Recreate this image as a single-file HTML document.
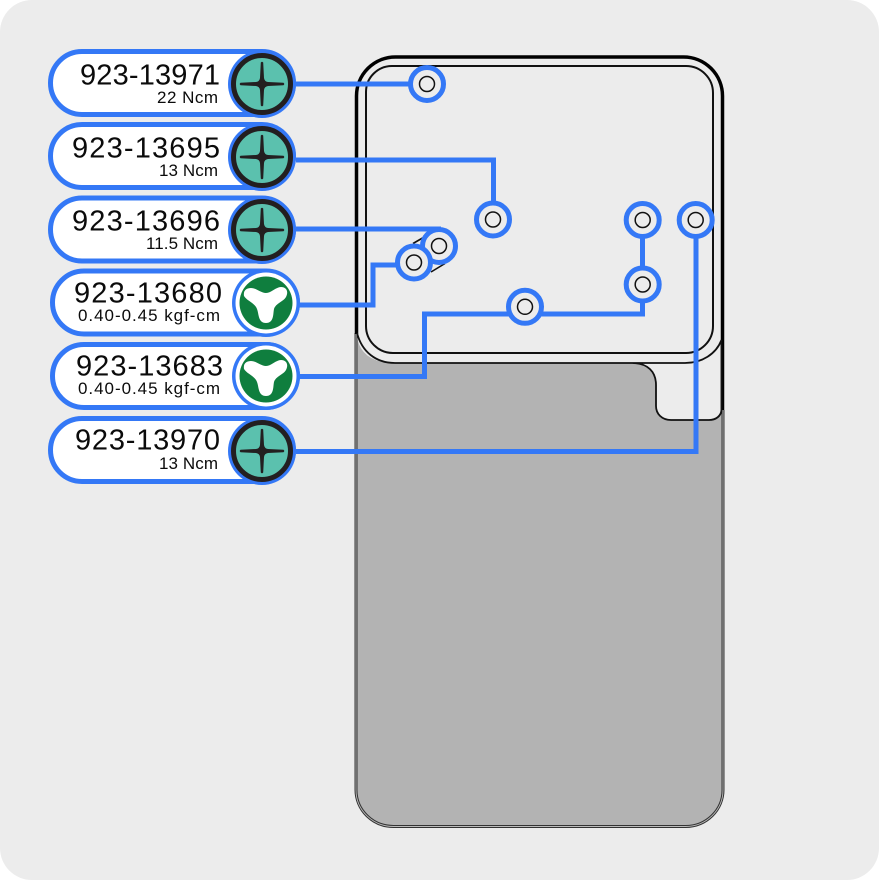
<!DOCTYPE html>
<html><head><meta charset="utf-8"><style>
html,body{margin:0;padding:0;background:#fff;width:879px;height:880px;overflow:hidden}
svg{display:block}
text{font-family:"Liberation Sans",sans-serif;fill:#0b0b0b;text-anchor:end}
.a{font-size:29px}
.b{font-size:17px}
</style></head><body>
<svg width="879" height="880" viewBox="0 0 879 880" xmlns="http://www.w3.org/2000/svg">
<defs>
<g id="ph">
<circle r="34" fill="#3478f6"/>
<circle r="28.500" fill="#5bc1ae" stroke="#231f20" stroke-width="5"/>
<path d="M-1.200-21.500 Q0-23 1.200-21.500 L2-6 Q2.500-2.500 6-2 L21.500-1.200 Q23 0 21.500 1.200 L6 2 Q2.500 2.500 2 6 L1.200 21.500 Q0 23 -1.200 21.500 L-2 6 Q-2.500 2.500 -6 2 L-21.500 1.200 Q-23 0 -21.500-1.200 L-6-2 Q-2.500-2.500 -2-6Z" fill="#231f20"/>
</g>
<g id="tri">
<circle r="34" fill="#3478f6"/>
<circle r="30.500" fill="#fff"/>
<circle r="26.500" fill="#0f7e3e"/>
<path d="M-22-7 C-23-13 -19-15 -15-15 C-10-15 -5-10 0-10 C5-10 10-16 15-16 C20-16 23-12 20-6 C17-1 10 0 8 6 C7 11 8 20 0 20 C-8 20 -7 11 -9 6 C-11 0 -19-2 -22-7Z" fill="#fff"/>
</g>
</defs>
<rect x="0" y="0" width="879" height="880" rx="32" fill="#ececec"/>

<!-- device -->
<path d="M356.500 333 Q359 363 395 363 H632 C648 363 656 372 656 385 V406 C656 414 662 420 671 420 H709 C716 420 721 416 721.500 410 L723 410 V790 A37 37 0 0 1 686 827 H393 A37.500 37 0 0 1 356 790 Z" fill="#b3b3b3"/>
<path d="M356 333 V790 A37.500 36.500 0 0 0 393.500 826.500 H685.500 A37.500 36.500 0 0 0 723 790 V410" fill="none" stroke="#333" stroke-width="3"/>
<path d="M356 333 V790 A37.500 36.500 0 0 0 393.500 826.500 H685.500 A37.500 36.500 0 0 0 723 790 V410" fill="none" stroke="#bbb" stroke-width="0.900"/>
<path d="M356.500 334 V96 A39 39 0 0 1 395.500 57 H683.500 A39 39 0 0 1 722.500 96 V410" fill="none" stroke="#000" stroke-width="3.500"/>
<path d="M392 66 H686 A27 27 0 0 1 713 93 V326 A27 27 0 0 1 686 353 H393 A27 27 0 0 1 366 326 V92 A26 26 0 0 1 392 66Z" fill="none" stroke="#111" stroke-width="2"/>
<path d="M357 333 C362 352 376 363 395 363 H632 C648 363 656 372 656 385 V406 C656 414 662 420 671 420 H709 C716 420 721 416 721.500 410 V340 C716 354 702 363 685 363 H632" fill="none" stroke="#111" stroke-width="1.800"/>
<path d="M413 243.500 L426 236 M431 272 L445 263.500" fill="none" stroke="#111" stroke-width="1.600"/>

<!-- connectors -->
<g fill="none" stroke="#3478f6" stroke-width="5">
<path d="M296 84 H411"/>
<path d="M296 160 H493.500 V203"/>
<path d="M296 229 H441"/>
<path d="M298 305 H373 V265 H398"/>
<path d="M298 376.500 H424.500 V314 H510"/>
<path d="M540 314 H642.500 V300"/>
<path d="M642.500 268 V236"/>
<path d="M296 451.500 H696 V236"/>
</g>

<!-- screw holes -->
<g fill="#ececec" stroke="#3478f6" stroke-width="5">
<circle cx="427" cy="84" r="16.500"/>
<circle cx="493" cy="219.500" r="16.500"/>
<circle cx="642.700" cy="220" r="16.500"/>
<circle cx="695.700" cy="220" r="16.500"/>
<circle cx="642.700" cy="284.500" r="16.500"/>
<circle cx="525" cy="306.800" r="16.500"/>
<circle cx="439" cy="246" r="16.500"/>
<circle cx="414" cy="262.500" r="16.500"/>
</g>
<g fill="none" stroke="#111" stroke-width="1.500">
<circle cx="427" cy="84" r="7.500"/>
<circle cx="493" cy="219.500" r="7.500"/>
<circle cx="642.700" cy="220" r="7.500"/>
<circle cx="695.700" cy="220" r="7.500"/>
<circle cx="642.700" cy="284.500" r="7.500"/>
<circle cx="525" cy="306.800" r="7.500"/>
<circle cx="439" cy="246" r="7.500"/>
<circle cx="414" cy="262.500" r="7.500"/>
</g>

<!-- pills -->
<g fill="#fff" stroke="#3478f6" stroke-width="5">
<rect x="50.500" y="51.500" width="243" height="63" rx="31.500"/>
<rect x="50.500" y="124.500" width="243" height="63" rx="31.500"/>
<rect x="50.500" y="198" width="243" height="63" rx="31.500"/>
<rect x="52.500" y="271" width="245" height="63" rx="31.500"/>
<rect x="52.500" y="344.500" width="245" height="63" rx="31.500"/>
<rect x="50.500" y="418.500" width="243" height="63" rx="31.500"/>
</g>
<use href="#ph" x="262" y="84"/>
<use href="#ph" x="262" y="157"/>
<use href="#ph" x="262" y="230"/>
<use href="#tri" x="266" y="303"/>
<use href="#tri" x="266" y="376"/>
<use href="#ph" x="262" y="451"/>

<text class="a" x="220" y="84.500" textLength="140">923-13971</text>
<text class="b" x="218" y="103" textLength="61">22 Ncm</text>
<text class="a" x="220" y="157.500" textLength="148">923-13695</text>
<text class="b" x="218" y="176" textLength="59">13 Ncm</text>
<text class="a" x="220" y="230.500" textLength="148">923-13696</text>
<text class="b" x="218" y="249" textLength="72">11.5 Ncm</text>
<text class="a" x="222" y="302.500" textLength="148">923-13680</text>
<text class="b" x="220" y="321" textLength="142">0.40-0.45 kgf-cm</text>
<text class="a" x="223" y="375.500" textLength="147">923-13683</text>
<text class="b" x="220" y="394" textLength="142">0.40-0.45 kgf-cm</text>
<text class="a" x="220" y="449.500" textLength="145">923-13970</text>
<text class="b" x="218" y="469" textLength="59">13 Ncm</text>
</svg>
</body></html>
